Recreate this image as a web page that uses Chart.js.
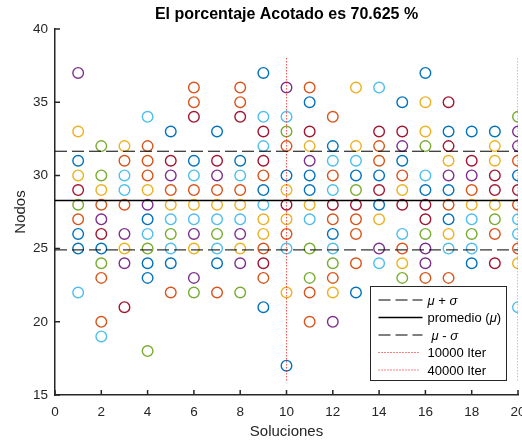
<!DOCTYPE html>
<html>
<head>
<meta charset="utf-8">
<script src="https://cdn.jsdelivr.net/npm/chart.js@4.4.0/dist/chart.umd.min.js"></script>
<style>
  body { margin: 0; background: #fff; }
  canvas { display: block; }
</style>
</head>
<body>
<canvas id="chart" width="522" height="442"></canvas>
<script>
// --- data ---
const solutions = [1, 2, 3, 4, 5, 6, 7, 8, 9, 10, 11, 12, 13, 14, 15, 16, 17, 18, 19, 20]

// nodes reached by each run, one list per solution
const nodes = [
  [37, 33, 31, 30, 29, 28, 27, 26, 25, 22],
  [32, 30, 29, 28, 27, 26, 25, 24, 23, 20, 19],
  [32, 31, 30, 29, 28, 26, 25, 24, 21],
  [34, 32, 31, 30, 29, 28, 27, 26, 25, 24, 23, 18],
  [33, 31, 30, 29, 28, 27, 26, 25, 24, 22],
  [36, 35, 34, 31, 30, 29, 28, 27, 26, 25, 23, 22],
  [33, 31, 30, 29, 28, 27, 26, 25, 24, 22],
  [36, 35, 34, 31, 30, 29, 28, 27, 26, 25, 24, 22],
  [37, 34, 33, 32, 31, 30, 29, 28, 27, 26, 25, 24, 23, 21],
  [36, 34, 33, 32, 30, 29, 28, 27, 26, 25, 22, 17],
  [36, 35, 33, 32, 31, 30, 29, 28, 27, 25, 23, 22, 20],
  [34, 32, 31, 30, 29, 28, 27, 26, 25, 24, 23, 22, 20],
  [36, 32, 31, 30, 29, 28, 27, 26, 24, 22],
  [36, 33, 32, 31, 30, 29, 28, 27, 25, 24],
  [35, 33, 32, 31, 30, 29, 28, 26, 25, 24, 23],
  [37, 35, 33, 32, 30, 29, 28, 27, 26, 25, 24, 23],
  [35, 33, 32, 31, 30, 29, 28, 27, 26, 25, 23],
  [33, 31, 30, 29, 28, 27, 26, 25, 24],
  [33, 32, 31, 30, 29, 28, 27, 26, 24],
  [34, 33, 32, 31, 30, 29, 28, 27, 26, 25, 24, 21]
]

// colour of every marker above (b o y p g c r = matlab colour order)
const colourKeys = [
  'pybyrgobbc',
  'ggyoprbgooc',
  'yoccopypr',
  'coooypbcgbbg',
  'brpoycgcbo',
  'oorbcoycpypg',
  'brpoycgcbo',
  'oorbcoycpypg',
  'bcrcrobcyyorob',
  'pcgobyryocyb',
  'obrypbbycggoo',
  'obcocrobcgoyp',
  'yycbgrooob',
  'croobrbypc',
  'brpboyrcoyg',
  'byygcbrrgppo',
  'rbrypbobyco',
  'brpoycgcb',
  'byyrrygor',
  'gppobroccoyc'
]

const palette = {
  b: '#0072BD', o: '#D95319', y: '#EDB120', p: '#7E2F8E',
  g: '#77AC30', c: '#4DBEEE', r: '#A2142F'
}

const xTicks = [0, 2, 4, 6, 8, 10, 12, 14, 16, 18, 20]
const yTicks = [15, 20, 25, 30, 35, 40]

const mu = 28.28
const sigma = 3.37
const iterSolutions = [10, 20]
const iterLabels = ['10000 Iter', '40000 Iter']
const iterSpan = [16, 38]

const chartTitle = 'El porcentaje Acotado es 70.625 %'

// --- build datasets ---
const points = []
const pointColours = []
solutions.forEach((s, i) => {
    nodes[i].forEach((v, j) => {
        points.push({ x: s, y: v })
        pointColours.push(palette[colourKeys[i][j]])
    })
})

const xMin = xTicks[0], xMax = xTicks[xTicks.length - 1]

const hLine = (value, label, opts) => Object.assign({
    label: label,
    data: [{ x: xMin, y: value }, { x: xMax, y: value }],
    showLine: true, pointRadius: 0, borderColor: '#000', borderWidth: 1,
    fill: false, order: 0
}, opts)

const datasets = [
    hLine(mu + sigma, 'μ + σ', { borderDash: [12, 5] }),
    hLine(mu, 'promedio (μ)', { borderWidth: 1.5 }),
    hLine(mu - sigma, 'μ - σ', { borderDash: [12, 5] }),
]
iterSolutions.forEach((s, i) => {
    datasets.push({
        label: iterLabels[i],
        data: [{ x: s, y: iterSpan[0] }, { x: s, y: iterSpan[1] }],
        showLine: true, pointRadius: 0, borderColor: '#FF0000', borderWidth: 1,
        borderDash: [1, 2], fill: false, order: 0
    })
})
datasets.push({
    data: points,
    pointRadius: 5.3,
    pointBorderWidth: 1.4,
    pointBorderColor: pointColours,
    pointBackgroundColor: 'rgba(0,0,0,0)',
    order: 1
})

const FONT = '"Liberation Sans", Arial, Helvetica, sans-serif'
const AXIS = '#262626'

// inward tick marks, title and boxed legend like the matlab figure
const matlabDecor = {
    id: 'matlabDecor',
    afterDatasetsDraw(chart) {
        const { ctx, chartArea: a, scales } = chart
        ctx.save()
        ctx.strokeStyle = AXIS
        ctx.lineWidth = 1.5
        ctx.beginPath()
        yTicks.forEach(v => {
            const y = scales.y.getPixelForValue(v)
            ctx.moveTo(a.left, y); ctx.lineTo(a.left + 5, y)
        })
        xTicks.forEach(v => {
            const x = scales.x.getPixelForValue(v)
            ctx.moveTo(x, a.bottom); ctx.lineTo(x, a.bottom - 5)
        })
        ctx.stroke()
        ctx.restore()
    },
    afterDraw(chart) {
        const { ctx, chartArea: a } = chart
        ctx.save()
        // title
        ctx.fillStyle = '#000'
        ctx.font = 'bold 16px ' + FONT
        ctx.textAlign = 'center'
        ctx.textBaseline = 'middle'
        ctx.fillText(chartTitle, (a.left + a.right) / 2, 15)

        // legend
        const items = chart.data.datasets.filter(d => d.label)
        const bx = a.right - 147.5, by = a.bottom - 108.5, bw = 136, bh = 94
        ctx.fillStyle = '#fff'
        ctx.fillRect(bx, by, bw, bh)
        ctx.strokeStyle = AXIS
        ctx.lineWidth = 1
        ctx.setLineDash([])
        ctx.strokeRect(bx, by, bw, bh)
        items.forEach((d, i) => {
            const y = by + 13.5 + i * 17.5
            const dotted = d.borderDash && d.borderDash[0] < 3
            ctx.strokeStyle = d.borderColor
            ctx.lineWidth = d.borderWidth
            ctx.setLineDash(d.borderDash || [])
            ctx.beginPath()
            ctx.moveTo(bx + 8, y)
            ctx.lineTo(bx + (dotted ? 48 : 52), y)
            ctx.stroke()
            ctx.setLineDash([])
            let tx = bx + 57 + (d.label.startsWith('μ -') ? 4 : 0)
            ctx.fillStyle = '#000'
            ctx.textAlign = 'left'
            for (const ch of d.label) {
                ctx.font = ('μσ'.includes(ch) ? 'italic ' : '') + '13px ' + FONT
                ctx.fillText(ch, tx, y + 1)
                tx += ctx.measureText(ch).width
            }
        })
        ctx.restore()
    }
}

new Chart(document.getElementById('chart'), {
    type: 'scatter',
    data: { datasets: datasets },
    options: {
        responsive: false,
        animation: false,
        devicePixelRatio: 1,
        layout: { autoPadding: false, padding: { top: 29, right: 4, left: 0, bottom: 0 } },
        plugins: {
            legend: { display: false },
            tooltip: { enabled: false },
            title: { display: false }
        },
        scales: {
            x: {
                type: 'linear', min: xMin, max: xMax,
                afterBuildTicks: s => { s.ticks = xTicks.map(v => ({ value: v })) },
                afterFit: s => { s.height = 47; s.paddingLeft = 0; s.paddingRight = 0 },
                grid: { display: false, drawTicks: false },
                border: { display: true, color: AXIS, width: 1.5 },
                ticks: { color: AXIS, padding: 9, maxRotation: 0, autoSkip: false, font: { family: FONT, size: 13.5 } },
                title: { display: true, text: 'Soluciones', color: AXIS, padding: { top: 0, bottom: 1.6 }, font: { family: FONT, size: 15 } }
            },
            y: {
                type: 'linear', min: yTicks[0], max: yTicks[yTicks.length - 1],
                afterBuildTicks: s => { s.ticks = yTicks.map(v => ({ value: v })) },
                afterFit: s => { s.width = 55; s.paddingTop = 0; s.paddingBottom = 0 },
                grid: { display: false, drawTicks: false },
                border: { display: true, color: AXIS, width: 1.5 },
                ticks: { color: AXIS, padding: 7, autoSkip: false, font: { family: FONT, size: 13.5 } },
                title: { display: true, text: 'Nodos', color: AXIS, padding: { top: 12, bottom: 0 }, font: { family: FONT, size: 15 } }
            }
        }
    },
    plugins: [matlabDecor]
})
</script>
</body>
</html>
